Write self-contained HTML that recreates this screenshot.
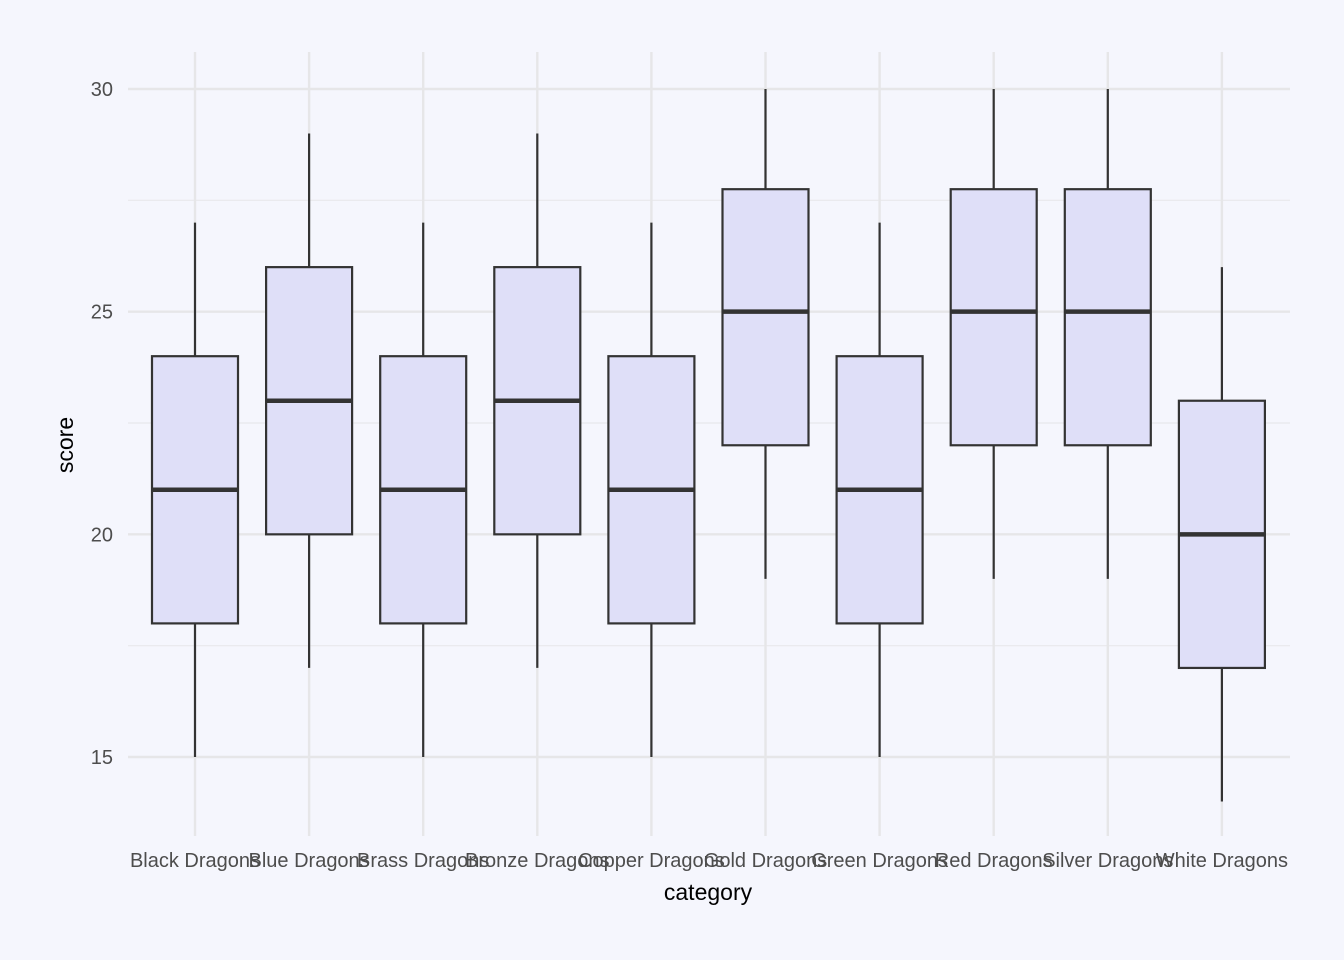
<!DOCTYPE html>
<html><head><meta charset="utf-8"><style>
body{margin:0;background:#f5f6fd;}
svg{display:block;font-family:"Liberation Sans",Arial,sans-serif;}
</style></head><body>
<svg id="chart" width="1344" height="960" viewBox="0 0 1344 960">
<rect width="1344" height="960" fill="#f5f6fd"/>
<g id="grid"></g><g id="boxes"></g><g id="axes"></g>
<text x="708" y="900" text-anchor="middle" font-size="23" fill="#000">category</text>
<text transform="translate(73,445) rotate(-90)" text-anchor="middle" font-size="23" fill="#000">score</text>
</svg>
<script>
const categories=["Black Dragons","Blue Dragons","Brass Dragons","Bronze Dragons","Copper Dragons","Gold Dragons","Green Dragons","Red Dragons","Silver Dragons","White Dragons"];
const mins=[15,17,15,17,15,19,15,19,19,14];
const q1s=[18,20,18,20,18,22,18,22,22,17];
const medians=[21,23,21,23,21,25,21,25,25,20];
const q3s=[24,26,24,26,24,27.75,24,27.75,27.75,23];
const maxs=[27,29,27,29,27,30,27,30,30,26];
const yTicks=[15,20,25,30];
const yMinor=[17.5,22.5,27.5];
const NS="http://www.w3.org/2000/svg";
const L=128,R=1290,T=52,B=836;
function y(v){return 89+(30-v)*(757-89)/15;}
function x(i){return 195+114.1*i;}
function mk(t,a,p){const e=document.createElementNS(NS,t);for(const k in a)e.setAttribute(k,a[k]);p.appendChild(e);return e;}
const grid=document.getElementById('grid'),boxes=document.getElementById('boxes'),axes=document.getElementById('axes');
yMinor.forEach(v=>{const l=mk('line',{x1:L,x2:R,y1:y(v),y2:y(v),stroke:'#e8e8ec','stroke-width':1.2},grid);

});
yTicks.forEach(v=>{const l=mk('line',{x1:L,x2:R,y1:y(v),y2:y(v),stroke:'#e6e6e8','stroke-width':2.4},grid);


const t=mk('text',{x:113,y:y(v)+7,'text-anchor':'end','font-size':20,fill:'#4d4d4d'},axes);t.textContent=v;

});
categories.forEach((c,i)=>{const cx=x(i);
const g=mk('line',{x1:cx,x2:cx,y1:T,y2:B,stroke:'#e6e6e8','stroke-width':2.4},grid);


const grp=mk('g',{},boxes);


mk('line',{x1:cx,x2:cx,y1:y(maxs[i]),y2:y(q3s[i]),stroke:'#333','stroke-width':2.2},grp);
mk('line',{x1:cx,x2:cx,y1:y(q1s[i]),y2:y(mins[i]),stroke:'#333','stroke-width':2.2},grp);
mk('rect',{x:cx-43,y:y(q3s[i]),width:86,height:y(q1s[i])-y(q3s[i]),fill:'#dfdff8',stroke:'#333','stroke-width':2.2},grp);
mk('line',{x1:cx-43,x2:cx+43,y1:y(medians[i]),y2:y(medians[i]),stroke:'#333','stroke-width':4.5},grp);
const t=mk('text',{x:cx,y:867,'text-anchor':'middle','font-size':20,fill:'#4d4d4d'},axes);t.textContent=c;

});
</script>
</body></html>
